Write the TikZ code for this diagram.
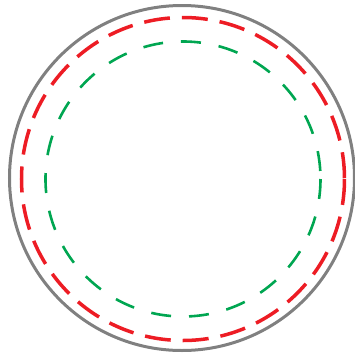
\documentclass[tikz,border=0pt]{standalone}
\usepackage{tikz}
\definecolor{ringgray}{RGB}{128,128,128}
\definecolor{ringred}{RGB}{237,28,36}
\definecolor{ringgreen}{RGB}{0,166,81}

\begin{document}
\begin{tikzpicture}[x=1pt,y=-1pt]
\useasboundingbox (0,0) rectangle (355,360);
% outer ring
\draw[ringgray,line width=3pt] (182,178) circle (172.5);
% dashed rings
\draw[ringred,line width=3.5pt,dash pattern=on 26pt off 12pt] (183,179) circle (161.5);
\draw[ringgreen,line width=2.6pt,dash pattern=on 20pt off 18pt] (183,179) circle (137.5);
\end{tikzpicture}
\end{document}
